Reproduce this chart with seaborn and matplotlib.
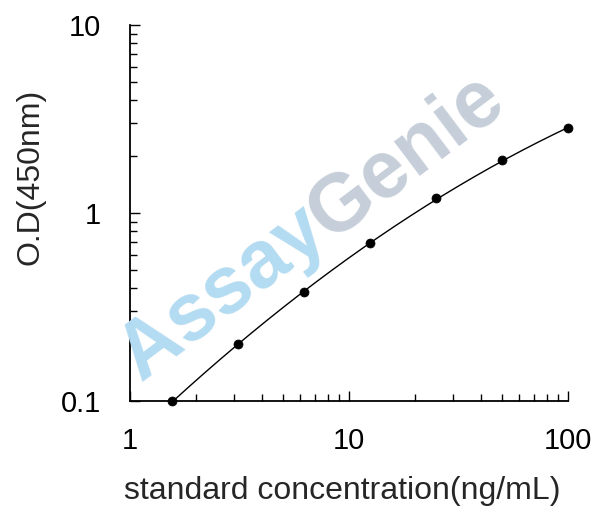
import numpy as np
import pandas as pd
import matplotlib
matplotlib.use("Agg")
import matplotlib.pyplot as plt
import seaborn as sns
from matplotlib.ticker import LogLocator, FixedLocator, FixedFormatter, NullFormatter

# ---- data ----
concentration = [1.5625, 3.125, 6.25, 12.5, 25, 50, 100]   # ng/mL
od450 = [0.100, 0.200, 0.381, 0.690, 1.195, 1.905, 2.82]
x_ticks = [1, 10, 100]
x_tick_labels = ["1", "10", "100"]
y_ticks = [0.1, 1, 10]
y_tick_labels = ["0.1", "1", "10"]

sns.set_style("white")
plt.rcParams["font.family"] = ["Liberation Sans", "DejaVu Sans"]

df = pd.DataFrame({"conc": concentration, "od": od450})

# fitted standard curve (quadratic in log-log space, fitted to the points)
coef = np.polyfit(np.log10(df["conc"]), np.log10(df["od"]), 2)
xs = np.logspace(np.log10(min(concentration)), np.log10(max(concentration)), 200)
fit = pd.DataFrame({"conc": xs, "od": 10 ** np.polyval(coef, np.log10(xs))})

W, H = 608, 517
fig = plt.figure(figsize=(W / 100, H / 100), dpi=100)
ax = fig.add_axes([130 / W, 1 - 401 / H, 438 / W, 376 / H])

# watermark
fig.text(223 / W, 1 - 293 / H, "Assay", color="#b3dbf1", fontsize=58, fontweight="bold",
         rotation=37, ha="center", va="center", rotation_mode="anchor", zorder=0)
fig.text(407 / W, 1 - 157 / H, "Genie", color="#c6cfd9", fontsize=58, fontweight="bold",
         rotation=37, ha="center", va="center", rotation_mode="anchor", zorder=0)
ax.patch.set_alpha(0)

sns.lineplot(data=fit, x="conc", y="od", ax=ax, color="black", lw=1.0, zorder=3)
sns.scatterplot(data=df, x="conc", y="od", ax=ax, color="black", marker="o", s=42,
                edgecolor="black", zorder=4, clip_on=False)

ax.set_xscale("log")
ax.set_yscale("log")
ax.set_xlim(1, 100)
ax.set_ylim(0.1, 10)

ax.xaxis.set_major_locator(FixedLocator(x_ticks))
ax.xaxis.set_major_formatter(FixedFormatter(x_tick_labels))
ax.yaxis.set_major_locator(FixedLocator(y_ticks))
ax.yaxis.set_major_formatter(FixedFormatter(y_tick_labels))
ax.xaxis.set_minor_locator(LogLocator(base=10, subs=np.arange(2, 10)))
ax.yaxis.set_minor_locator(LogLocator(base=10, subs=np.arange(2, 10)))
ax.xaxis.set_minor_formatter(NullFormatter())
ax.yaxis.set_minor_formatter(NullFormatter())

for s in ["top", "right"]:
    ax.spines[s].set_visible(False)
for s in ["left", "bottom"]:
    ax.spines[s].set_linewidth(1.3)
    ax.spines[s].set_color("black")

ax.tick_params(axis="both", which="both", bottom=True, left=True, top=False, right=False)
ax.tick_params(axis="both", which="major", direction="in", length=7, width=1.0,
               labelsize=21, colors="black")
ax.tick_params(axis="both", which="minor", direction="in", length=5, width=1.0,
               colors="black")
ax.tick_params(axis="x", which="major", pad=19)
ax.tick_params(axis="y", which="major", pad=21)

ax.set_xlabel("standard concentration(ng/mL)", fontsize=23, labelpad=15,
              x=(342 - 130) / 438)
ax.set_ylabel("O.D(450nm)", fontsize=23, labelpad=11, y=(401 - 177) / 376)

fig.savefig("out.png", dpi=100)
